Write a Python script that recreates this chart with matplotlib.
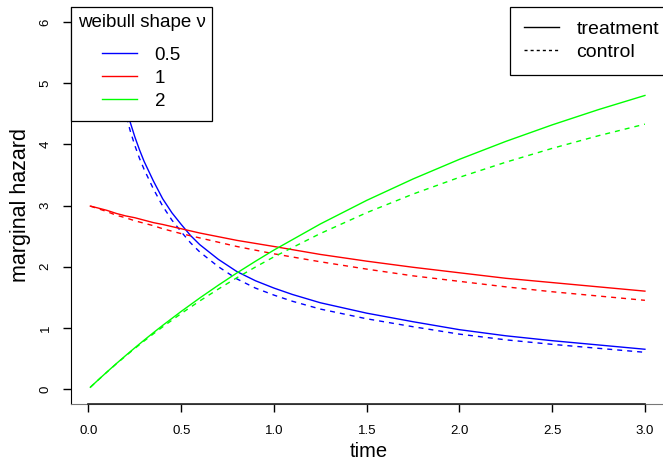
import numpy as np
import matplotlib
matplotlib.use('Agg')
import matplotlib.pyplot as plt
from matplotlib.lines import Line2D
from matplotlib.offsetbox import DrawingArea

plt.rcParams['font.family'] = ['Liberation Sans', 'DejaVu Sans']

# time grids and marginal hazards
t = [0.01, 0.05, 0.1, 0.15, 0.2, 0.25, 0.3, 0.35, 0.4, 0.5, 0.6, 0.7, 0.8, 0.9,
     1.0, 1.25, 1.5, 1.75, 2.0, 2.25, 2.5, 2.75, 3.0]
t_blue = [0.01, 0.02, 0.03, 0.05, 0.075, 0.1, 0.125, 0.15, 0.175, 0.2, 0.225, 0.25, 0.275,
          0.3, 0.35, 0.4, 0.45, 0.5, 0.55, 0.6, 0.7, 0.8, 0.9, 1.0, 1.1, 1.25, 1.5, 1.75,
          2.0, 2.25, 2.5, 2.75, 3.0]

# weibull shape 0.5
blue_trt = [22.0, 15.5, 12.6, 9.66, 7.81, 6.70, 5.97, 5.42, 5.00, 4.65, 4.36, 4.12, 3.91,
            3.72, 3.40, 3.11, 2.88, 2.69, 2.51, 2.36, 2.12, 1.92, 1.77, 1.65, 1.545, 1.41,
            1.24, 1.10, 0.97, 0.87, 0.79, 0.72, 0.65]
blue_ctl = [21.7, 15.24, 12.37, 9.47, 7.63, 6.53, 5.81, 5.26, 4.85, 4.50, 4.22, 3.98, 3.77,
            3.59, 3.27, 2.99, 2.76, 2.57, 2.39, 2.24, 2.00, 1.80, 1.65, 1.535, 1.434, 1.307,
            1.148, 1.018, 0.897, 0.804, 0.730, 0.665, 0.60]
# weibull shape 1
red_trt = [2.99, 2.96, 2.92, 2.87, 2.83, 2.80, 2.76, 2.72, 2.69, 2.62, 2.55, 2.49, 2.43, 2.38,
           2.33, 2.20, 2.09, 1.99, 1.90, 1.81, 1.74, 1.67, 1.60]
red_ctl = [2.99, 2.95, 2.90, 2.84, 2.80, 2.75, 2.71, 2.67, 2.62, 2.54, 2.47, 2.40, 2.33, 2.27,
           2.21, 2.08, 1.96, 1.85, 1.76, 1.67, 1.59, 1.52, 1.45]
# weibull shape 2
green_trt = [0.029, 0.142, 0.280, 0.415, 0.546, 0.674, 0.799, 0.921, 1.040, 1.269, 1.488, 1.697,
             1.897, 2.088, 2.272, 2.698, 3.084, 3.434, 3.755, 4.048, 4.318, 4.568, 4.799]
green_ctl = [0.029, 0.141, 0.278, 0.411, 0.539, 0.664, 0.785, 0.902, 1.016, 1.234, 1.440, 1.634,
             1.819, 1.994, 2.161, 2.542, 2.883, 3.187, 3.461, 3.708, 3.934, 4.141, 4.330]

shapes = ['0.5', '1', '2']
cols = ['#0000FF', '#FF0000', '#00FF00']
tt = [t_blue, t, t]
trt = [blue_trt, red_trt, green_trt]
ctl = [blue_ctl, red_ctl, green_ctl]

fig = plt.figure(figsize=(6.63, 4.62), dpi=100)
ax = fig.add_axes([71/663, 58/462, 596/663, 397/462])

for c, x, y1, y2 in zip(cols, tt, trt, ctl):
    ax.plot(x, y1, color=c, lw=1.0)
    ax.plot(x, y2, color=c, lw=1.0, dashes=(3.6, 3.6))

ax.set_xlim(-0.0943, 3.119)
ax.set_ylim(-0.245, 6.245)

ax.spines['top'].set_visible(False)
ax.spines['right'].set_visible(False)
ax.spines['bottom'].set_color('#777777')
ax.spines['left'].set_color('black')
ax.plot([0, 3], [-0.245, -0.245], color='#222222', lw=1.2, clip_on=False, zorder=5)

ax.set_xticks([0, 0.5, 1.0, 1.5, 2.0, 2.5, 3.0])
ax.set_xticklabels(['0.0', '0.5', '1.0', '1.5', '2.0', '2.5', '3.0'])
ax.set_yticks([0, 1, 2, 3, 4, 5, 6])
ax.tick_params(direction='out', length=6, width=1, labelsize=9.5, color='black')
ax.tick_params(axis='x', pad=9)
ax.tick_params(axis='y', pad=8)
for lab in ax.get_yticklabels():
    lab.set_rotation(90)
    lab.set_va('center')

ax.set_xlabel('time', fontsize=14.5, labelpad=4)
ax.set_ylabel('marginal hazard', fontsize=15.5, labelpad=6)

h1 = [Line2D([], [], color=c, lw=1.0) for c in cols]
leg1 = ax.legend(h1, shapes, title='weibull shape \u03bd', loc='upper left',
                 bbox_to_anchor=(0, 1), borderaxespad=0, fontsize=13.5, title_fontsize=13.5,
                 fancybox=False, edgecolor='black', framealpha=1, handlelength=1.85,
                 handletextpad=0.95, borderpad=0.35, labelspacing=0.32)
# a bit more room below the title and under the last row, like the R legend
box = leg1._legend_box
box.sep = 3
box._children = [box._children[0], DrawingArea(1, 5.5), box._children[1], DrawingArea(1, 0.6)]
leg1.get_frame().set_linewidth(0.9)
ax.add_artist(leg1)

h2 = [Line2D([], [], color='black', lw=1.0),
      Line2D([], [], color='black', lw=1.0, dashes=(2.2, 2.2))]
leg2 = ax.legend(h2, ['treatment', 'control'], loc='upper right', bbox_to_anchor=(1.0094, 1),
                 borderaxespad=0, fontsize=14, fancybox=False, edgecolor='black',
                 framealpha=1, handlelength=1.8, handletextpad=0.9, borderpad=0.7,
                 labelspacing=0.27)
leg2.get_frame().set_linewidth(0.9)

fig.savefig('out.png', dpi=100)
